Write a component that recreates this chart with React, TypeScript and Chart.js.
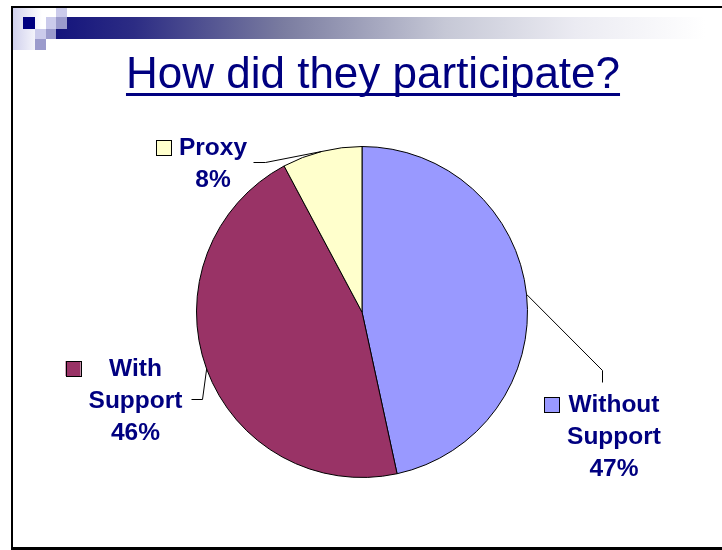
import React, { useEffect, useRef } from "react";
import { Chart, registerables } from "chart.js";

Chart.register(...registerables);

const TITLE = "How did they participate?";
const categories = ["Without Support", "With Support", "Proxy"];
const values = [46.6, 45.6, 7.8];
const sliceColors = ["#9999FF", "#993366", "#FFFFCC"];

const NAVY = "#000080";
const FONT = "'Liberation Sans', Arial, Helvetica, sans-serif";

// Label placement relative to the pie centre (dx, dy offsets)
const LABEL_LAYOUT = [
  { cx: 252, base: 100, elbow: [240, 58], end: [240, 70] },
  { cx: -226.5, base: 64, elbow: [-160, 87], end: [-171, 87] },
  { cx: -149, base: -157, elbow: [-97, -150], end: [-109, -150] },
];

const slidePlugin = {
  id: "slideDecor",
  beforeDraw(chart: any) {
    const ctx = chart.ctx as CanvasRenderingContext2D;
    const W = chart.width;
    const H = chart.height;
    ctx.save();
    ctx.fillStyle = "#ffffff";
    ctx.fillRect(0, 0, W, H);

    // soft lavender background behind squares
    const g0 = ctx.createLinearGradient(12, 0, 42, 0);
    g0.addColorStop(0, "#cfcfec");
    g0.addColorStop(1, "#ffffff");
    ctx.fillStyle = g0;
    ctx.fillRect(12, 7, 30, 43);

    // header gradient bar
    const g = ctx.createLinearGradient(56, 0, 705, 0);
    g.addColorStop(0, "#14147c");
    g.addColorStop(0.12, "#2c2c84");
    g.addColorStop(0.35, "#7a7ca0");
    g.addColorStop(0.6, "#c6c8d6");
    g.addColorStop(0.8, "#ebebf2");
    g.addColorStop(1, "#ffffff");
    ctx.fillStyle = g;
    ctx.fillRect(67, 17, 640, 22);
    ctx.fillRect(56, 29, 11, 10);

    const LIGHT = "#cbcbeb";
    const MED = "#9b9bcc";
    ctx.fillStyle = NAVY;
    ctx.fillRect(23, 17, 12, 12);
    ctx.fillStyle = LIGHT;
    ctx.fillRect(35, 29, 11, 10);
    ctx.fillRect(46, 17, 10, 12);
    ctx.fillRect(56, 6, 11, 11);
    ctx.fillStyle = MED;
    ctx.fillRect(35, 39, 11, 11);
    ctx.fillRect(46, 29, 10, 10);
    ctx.fillRect(56, 17, 11, 12);

    // slide border
    ctx.fillStyle = "#000000";
    ctx.fillRect(11, 6, W - 11, 2);
    ctx.fillRect(11, 6, 2, H - 6);
    ctx.fillRect(11, 547, W - 11, 3);

    // title
    ctx.font = `44px ${FONT}`;
    ctx.fillStyle = NAVY;
    ctx.textAlign = "center";
    ctx.textBaseline = "alphabetic";
    const tx = 373;
    ctx.fillText(TITLE, tx, 88);
    const tw = ctx.measureText(TITLE).width;
    ctx.fillRect(tx - tw / 2, 93, tw, 3);
    ctx.restore();
  },
  afterDraw(chart: any) {
    const ctx = chart.ctx as CanvasRenderingContext2D;
    const meta = chart.getDatasetMeta(0);
    const data = chart.data.datasets[0].data as number[];
    const total = data.reduce((a, b) => a + b, 0);
    ctx.save();
    meta.data.forEach((arc: any, i: number) => {
      const { x, y, startAngle, endAngle, outerRadius } = arc.getProps(
        ["x", "y", "startAngle", "endAngle", "outerRadius"],
        true
      );
      const L = LABEL_LAYOUT[i];
      const mid = (startAngle + endAngle) / 2;
      const sx = x + Math.cos(mid) * outerRadius;
      const sy = y + Math.sin(mid) * outerRadius;

      // leader line
      ctx.strokeStyle = "#000000";
      ctx.lineWidth = 1;
      ctx.beginPath();
      ctx.moveTo(sx, sy);
      ctx.lineTo(x + L.elbow[0] + 0.5, y + L.elbow[1] + 0.5);
      ctx.lineTo(x + L.end[0] + 0.5, y + L.end[1] + 0.5);
      ctx.stroke();

      // text
      const lines = String(chart.data.labels[i]).split(" ");
      lines.push(Math.round((data[i] / total) * 100) + "%");
      ctx.font = `bold 24.5px ${FONT}`;
      ctx.fillStyle = NAVY;
      ctx.textAlign = "center";
      ctx.textBaseline = "alphabetic";
      const cx = x + L.cx;
      const base = y + L.base;
      let maxW = 0;
      lines.forEach((t, k) => {
        ctx.fillText(t, cx, base + k * 32);
        maxW = Math.max(maxW, ctx.measureText(t).width);
      });

      // legend key square
      const left = cx - maxW / 2 - 8 - 15;
      ctx.fillStyle = sliceColors[i];
      ctx.fillRect(left, base - 15, 15, 15);
      ctx.strokeStyle = "#000000";
      ctx.strokeRect(Math.round(left) + 0.5, base - 15 + 0.5, 15, 15);
    });
    ctx.restore();
  },
};

export default function App() {
  const ref = useRef<HTMLCanvasElement | null>(null);
  useEffect(() => {
    if (!ref.current) return;
    const chart = new Chart(ref.current, {
      type: "pie",
      data: {
        labels: categories,
        datasets: [
          {
            data: values,
            backgroundColor: sliceColors,
            borderColor: "#000000",
            borderWidth: 1,
          },
        ],
      },
      options: {
        animation: false,
        responsive: false,
        devicePixelRatio: 1,
        layout: { padding: { top: 146, bottom: 72, left: 196, right: 194 } },
        plugins: {
          legend: { display: false },
          title: { display: false },
          tooltip: { enabled: false },
        },
      },
      plugins: [slidePlugin],
    });
    return () => chart.destroy();
  }, []);
  return (
    <div style={{ position: "fixed", left: 0, top: 0, width: 722, height: 550, background: "#fff" }}>
      <canvas ref={ref} width={722} height={550} style={{ display: "block" }} />
    </div>
  );
}
